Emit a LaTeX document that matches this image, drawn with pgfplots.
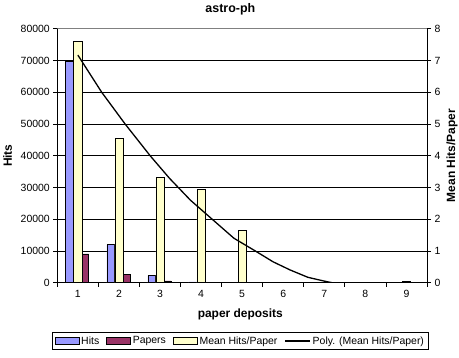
\documentclass[border=0pt]{standalone}
\usepackage{pgfplots}
\pgfplotsset{compat=1.18}
\usepackage{fontspec}
\setmainfont{Liberation Sans}
\definecolor{hitsc}{HTML}{9999FF}
\definecolor{papc}{HTML}{993366}
\definecolor{meanc}{HTML}{FFFFCC}
\pgfplotsset{
  barleg/.style={legend image code/.code={\draw[##1,line width=0.6bp] (0bp,-3.5bp) rectangle (24bp,3.5bp);}},
  lineleg/.style={legend image code/.code={\draw[##1] (0bp,0bp) -- (25bp,0bp);}},
  base/.style={
    at={(57.3bp,74.3bp)}, anchor=south west,
    scale only axis, width=369.7bp, height=254bp,
    xmin=0.5, xmax=9.5,
    /pgf/number format/assume math mode=true,
    /pgf/number format/1000 sep={},
    scaled y ticks=false,
    tick label style={font=\fontsize{10.5}{12}\selectfont},
    axis line style={line width=0.8bp},
    tick style={line width=0.8bp, black},
    tick align=outside, major tick length=4bp, minor tick length=4bp,
  }
}
\begin{document}
\begin{tikzpicture}[x=1bp,y=1bp]
\path[use as bounding box] (0,0) rectangle (459,357);
\begin{axis}[base,
  ymin=0, ymax=80000, ytick={0,10000,...,80000},
  axis x line*=bottom, axis y line*=left,
  ymajorgrids, grid style={black, line width=0.8bp},
  xtick={1,...,9}, major x tick style={draw=none},
  minor xtick={0.5,1.5,...,9.5},
  xlabel={paper deposits}, ylabel={Hits},
  every axis y label/.style={at={(axis description cs:-0.1347,0.5)}, rotate=90, anchor=center, font=\bfseries\fontsize{12}{14}\selectfont},
  every axis x label/.style={at={(axis description cs:0.495,-0.123)}, anchor=center, font=\bfseries\fontsize{12}{14}\selectfont},
  title={astro-ph},
  every axis title/.style={font=\bfseries\fontsize{12.5}{14}\selectfont, at={(axis description cs:0.468,1.078)}, anchor=center},
]
\addplot[ybar, bar width=0.19, bar shift=-0.2, fill=hitsc, draw=black, line width=0.6bp]
  coordinates {(1,69800) (2,12000) (3,2200) (4,250)};
\addplot[ybar, bar width=0.17, bar shift=0.18, fill=papc, draw=black, line width=0.6bp]
  coordinates {(1,9100) (2,2500) (3,600) (4,80)};
\end{axis}
\begin{axis}[base,
  ymin=0, ymax=8, ytick={0,...,8},
  axis y line*=right, axis x line=none,
  ylabel={Mean Hits/Paper},
  every axis y label/.style={at={(axis description cs:1.0676,0.5)}, rotate=90, anchor=center, font=\bfseries\fontsize{12}{14}\selectfont},
  legend columns=4,
  legend style={at={(axis description cs:0.495,-0.2295)}, anchor=center, draw=black, line width=0.8bp,
    font=\fontsize{10.5}{12}\selectfont, inner sep=2bp,
    /tikz/every even column/.append style={column sep=5bp}},
  legend cell align=left,
]
\addlegendimage{barleg, fill=hitsc, draw=black}
\addlegendentry{Hits}
\addlegendimage{barleg, fill=papc, draw=black}
\addlegendentry{Papers}
\addplot[ybar, bar width=0.2, bar shift=0, fill=meanc, draw=black, line width=0.6bp, barleg]
  coordinates {(1,7.59) (2,4.55) (3,3.32) (4,2.94) (5,1.66) (9,0.03)};
\addlegendentry{Mean Hits/Paper}
\addplot[black, line width=1.3bp, no marks, lineleg]
  coordinates {(1,7.17) (1.58,6.0) (2.15,5.0) (2.76,4.0) (3.23,3.29) (3.74,2.6) (4.27,2.0) (4.8,1.4) (5.32,1.0) (5.75,0.66) (6.17,0.4) (6.6,0.17) (7.0,0.05) (7.19,0.0)};
\addlegendentry{Poly. (Mean Hits/Paper)}
\draw[gray, line width=0.8bp] (rel axis cs:0,1) -- (rel axis cs:1,1);
\end{axis}
\end{tikzpicture}
\end{document}
